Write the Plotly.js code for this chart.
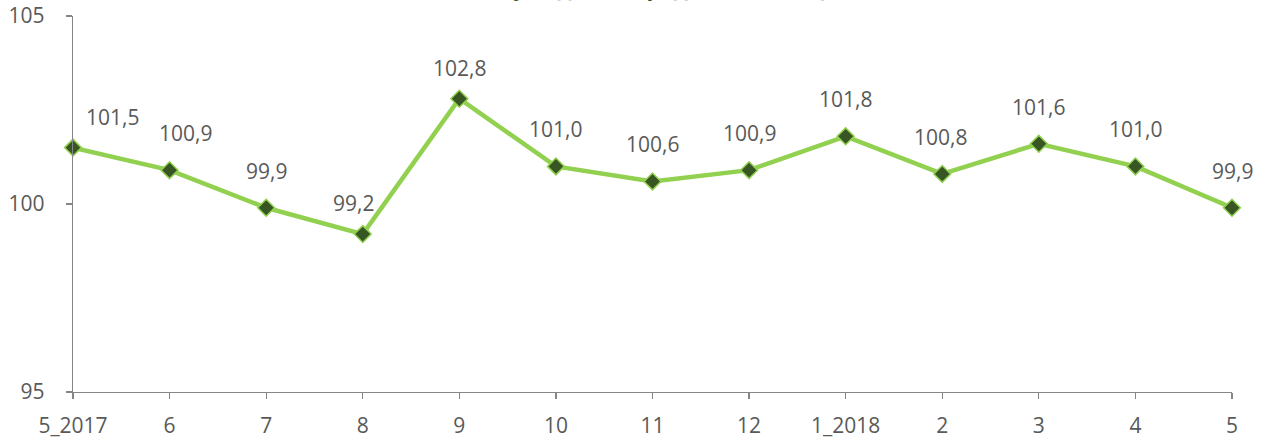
<!DOCTYPE html>
<html>
<head>
<meta charset="utf-8">
<script src="https://cdn.plot.ly/plotly-3.0.1.min.js"></script>
<style>html,body{margin:0;padding:0;background:#fff}#chart{width:1269px;height:442px}</style>
</head>
<body>
<div id="chart"></div>
<script>
const categories = ["5_2017","6","7","8","9","10","11","12","1_2018","2","3","4","5"];
const values = [101.5, 100.9, 99.9, 99.2, 102.8, 101.0, 100.6, 100.9, 101.8, 100.8, 101.6, 101.0, 99.9];
const titleText = "(у % до попереднього місяця)";
const yTicks = [95, 100, 105];

// horizontal nudges for a few labels (Excel keeps them off the line)
const labelShift = {0: 39, 1: 16, 3: -9, 9: -2};

const fmt = v => v.toFixed(1).replace('.', ',');
const annotations = values.map((v, i) => ({
  x: i, y: v, xref: 'x', yref: 'y',
  text: fmt(v), showarrow: false,
  xshift: labelShift[i] || 0, yshift: (i === 0 || i === 3 || i === 4) ? 31 : 37,
  yanchor: 'middle',
  font: {family: 'Open Sans', size: 21, color: '#595959'}
}));
annotations.push({
  xref: 'paper', yref: 'paper', x: 0.52, y: 1.031, xanchor: 'center', yanchor: 'bottom',
  text: '<b>' + titleText + '</b>', showarrow: false,
  font: {family: 'Open Sans', size: 22, color: '#375623'}
});

const trace = {
  type: 'scatter', mode: 'lines+markers',
  x: categories, y: values,
  line: {color: '#92D050', width: 4.5},
  marker: {symbol: 'diamond', size: 13, color: '#375623', line: {color: '#92D050', width: 1.5}},
  cliponaxis: false, hoverinfo: 'skip'
};

const layout = {
  width: 1269, height: 442,
  margin: {l: 73, r: 37, t: 16, b: 50},
  paper_bgcolor: '#ffffff', plot_bgcolor: '#ffffff',
  showlegend: false,
  font: {family: 'Open Sans', size: 21, color: '#595959'},
  xaxis: {
    type: 'category', range: [0, 12],
    showgrid: false, zeroline: false,
    showline: true, linecolor: '#868686', linewidth: 1.3,
    ticks: 'outside', ticklen: 6, tickcolor: '#868686', tickwidth: 1.3,
    ticklabelstandoff: 8,
    tickfont: {family: 'Open Sans', size: 21, color: '#595959'}
  },
  yaxis: {
    range: [95, 105], tickmode: 'array', tickvals: yTicks, ticktext: yTicks.map(String),
    showgrid: false, zeroline: false,
    showline: true, linecolor: '#868686', linewidth: 1.3,
    ticks: 'outside', ticklen: 6, tickcolor: '#868686', tickwidth: 1.3,
    ticklabelstandoff: 17,
    tickfont: {family: 'Open Sans', size: 21, color: '#595959'}
  },
  annotations: annotations
};

Plotly.newPlot('chart', [trace], layout, {displayModeBar: false, staticPlot: true});
</script>
</body>
</html>
